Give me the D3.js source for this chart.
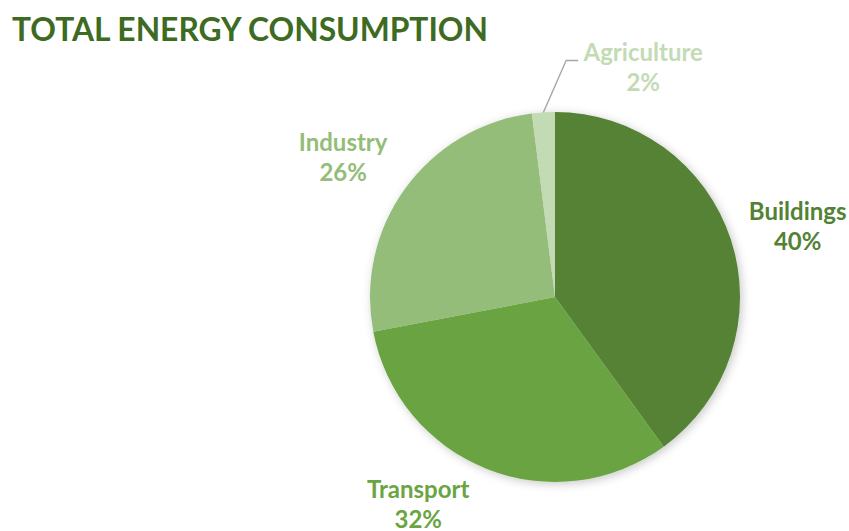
<!DOCTYPE html>
<html>
<head>
<meta charset="utf-8">
<script src="https://cdn.jsdelivr.net/npm/d3@7"></script>
<style>
  body { margin: 0; background: #fff; }
  text { font-family: Lato, "Open Sans", sans-serif; font-weight: bold; }
</style>
</head>
<body>
<svg id="chart"></svg>
<script>
// Data
const categories = ["Buildings", "Transport", "Industry", "Agriculture"];
const shares = [40, 32, 26, 2];
const colors = ["#548235", "#6aa443", "#93bd78", "#c3dbb4"];

// Configurations
let width = 849;
let height = 531;
let cx = 555, cy = 297, radius = 185;
let labelRadius = 252;
// nudges for label positions from the radial anchor (Excel "best fit" look)
let labelNudge = [[3, 8], [-44, -26], [-8, 9], [104, 23]];

const svg = d3.select("#chart")
    .attr("width", width)
    .attr("height", height)
    .attr("viewBox", [0, 0, width, height]);

const defs = svg.append("defs");
defs.append("filter")
    .attr("id", "shadow")
    .attr("x", "-20%").attr("y", "-20%")
    .attr("width", "140%").attr("height", "140%")
    .append("feDropShadow")
    .attr("dx", 2).attr("dy", 2)
    .attr("stdDeviation", 5)
    .attr("flood-color", "#000")
    .attr("flood-opacity", 0.22);

svg.append("text")
    .attr("x", 12)
    .attr("y", 41)
    .attr("fill", "#3d6b22")
    .attr("font-size", 32)
    .attr("textLength", 476)
    .attr("lengthAdjust", "spacingAndGlyphs")
    .text("TOTAL ENERGY CONSUMPTION");

const data = categories.map((c, i) => ({name: c, value: shares[i], color: colors[i]}));

const pie = d3.pie().value(d => d.value).sort(null);
const arcs = pie(data);
const arc = d3.arc().innerRadius(0).outerRadius(radius);
const labelArc = d3.arc().innerRadius(labelRadius).outerRadius(labelRadius);

const g = svg.append("g").attr("transform", `translate(${cx},${cy})`);

g.append("g")
    .attr("filter", "url(#shadow)")
    .selectAll("path")
    .data(arcs)
    .join("path")
    .attr("d", arc)
    .attr("fill", d => d.data.color);

// leader line for the small slice
const small = arcs[3];
const edge = d3.arc().innerRadius(radius).outerRadius(radius).centroid(small);
const lp = labelArc.centroid(small);
const lx = lp[0] + labelNudge[3][0], ly = lp[1] + labelNudge[3][1];
g.append("polyline")
    .attr("points", [[edge[0], edge[1]], [lx - 77, ly - 8], [lx - 65, ly - 8]].map(p => p.join(",")).join(" "))
    .attr("fill", "none")
    .attr("stroke", "#a6a6a6")
    .attr("stroke-width", 1.3);

const labels = g.append("g")
    .attr("font-size", 24)
    .attr("text-anchor", "middle")
    .selectAll("text")
    .data(arcs)
    .join("text")
    .attr("fill", d => d.data.color)
    .attr("transform", (d, i) => {
        const c = labelArc.centroid(d);
        return `translate(${c[0] + labelNudge[i][0]},${c[1] + labelNudge[i][1]})`;
    });

labels.append("tspan")
    .attr("x", 0)
    .attr("y", -7)
    .text(d => d.data.name);

labels.append("tspan")
    .attr("x", 0)
    .attr("y", 23)
    .text(d => d.data.value + "%");
</script>
</body>
</html>
